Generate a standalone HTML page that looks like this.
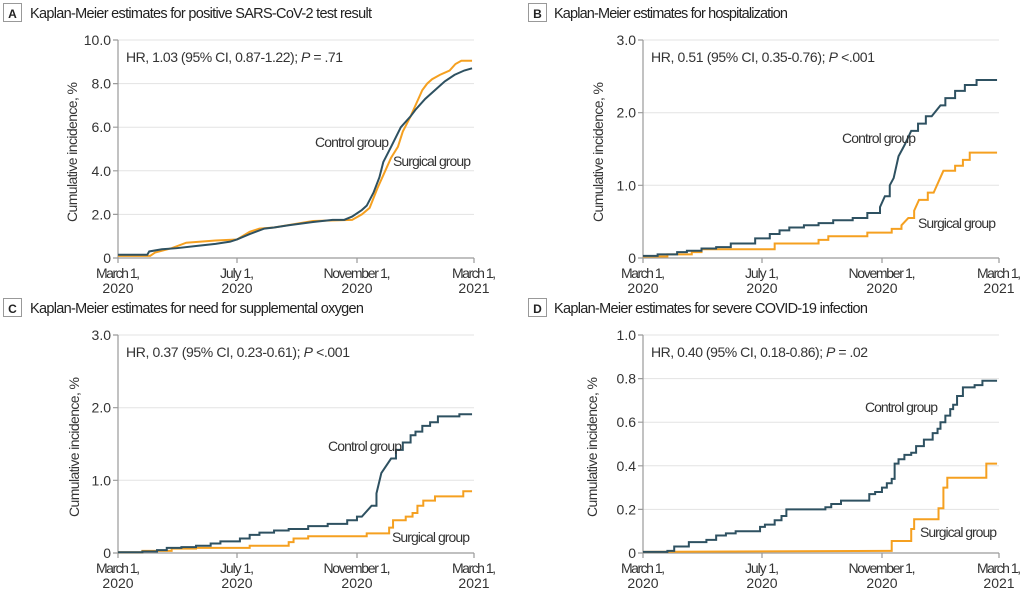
<!DOCTYPE html>
<html><head><meta charset="utf-8"><style>
html,body{margin:0;padding:0;background:#fff;}
svg{display:block;font-family:"Liberation Sans Narrow","Liberation Sans",sans-serif;}
.t{font-size:14.5px;fill:#222;}
.k{font-size:14px;fill:#333;}
.hr{font-size:14px;fill:#333;}
.g{stroke:#e3e3e3;stroke-width:1;}
.ax{stroke:#9a9a9a;stroke-width:1.2;fill:none;}
.c{stroke:#2e5161;stroke-width:2;fill:none;vector-effect:non-scaling-stroke;}
.s{stroke:#f5a020;stroke-width:2;fill:none;vector-effect:non-scaling-stroke;}
.lb{font-size:14px;fill:#333;}
</style></head><body>
<svg width="1024" height="589" viewBox="0 0 1024 589">
<!-- ===== A ===== -->
<rect x="3.5" y="3.5" width="18" height="18" fill="#fff" stroke="#999"/>
<text x="12.5" y="18" class="t" text-anchor="middle" font-weight="bold" style="font-size:12px">A</text>
<text x="30" y="18" class="t" textLength="342">Kaplan-Meier estimates for positive SARS-CoV-2 test result</text>
<g>
<line class="g" x1="118" x2="474" y1="40" y2="40"/><line class="g" x1="118" x2="474" y1="83.6" y2="83.6"/><line class="g" x1="118" x2="474" y1="127.2" y2="127.2"/><line class="g" x1="118" x2="474" y1="170.8" y2="170.8"/><line class="g" x1="118" x2="474" y1="214.4" y2="214.4"/>
<path class="ax" d="M118 40V258H474M113 40H118M113 83.6H118M113 127.2H118M113 170.8H118M113 214.4H118M113 258H118M118 258v5M237 258v5M357 258v5M474 258v5"/>
<g class="k" text-anchor="end"><text x="111" y="45">10.0</text><text x="111" y="88.6">8.0</text><text x="111" y="132.2">6.0</text><text x="111" y="175.8">4.0</text><text x="111" y="219.4">2.0</text><text x="111" y="263">0</text></g>
<g class="k" text-anchor="middle"><text x="118" y="278" textLength="44">March 1,</text><text x="118" y="293">2020</text><text x="237" y="278" textLength="34">July 1,</text><text x="237" y="293">2020</text><text x="357" y="278" textLength="67">November 1,</text><text x="357" y="293">2020</text><text x="474" y="278" textLength="44">March 1,</text><text x="474" y="293">2021</text></g>
<text class="k" transform="translate(77,152) rotate(-90)" text-anchor="middle" textLength="140">Cumulative incidence, %</text>
<text x="126" y="62" class="hr" textLength="217">HR, 1.03 (95% CI, 0.87-1.22); <tspan font-style="italic">P</tspan> = .71</text>
<g transform="translate(118,258) scale(0.97534,-21.8)">
<path class="s" d="M0 0.1 L33 0.1 L38 0.25 L55 0.45 L70 0.7 L100 0.8 L122 0.85 L135 1.2 L145 1.35 L160 1.4 L200 1.7 L240 1.75 L250 2.0 L258 2.3 L266 3.2 L272 3.8 L280 4.6 L287 5.1 L292 5.8 L300 6.5 L305 7.0 L312 7.7 L317 8.0 L322 8.2 L330 8.4 L340 8.6 L346 8.9 L352 9.05 L363 9.05"/>
<path class="c" d="M0 0.15 L30 0.15 L32 0.3 L45 0.4 L60 0.45 L80 0.55 L100 0.65 L115 0.75 L122 0.85 L135 1.1 L150 1.35 L160 1.4 L175 1.5 L200 1.65 L220 1.75 L232 1.75 L240 1.9 L250 2.2 L255 2.4 L262 3.0 L268 3.7 L272 4.4 L280 5.1 L290 6.0 L300 6.5 L305 6.8 L315 7.3 L325 7.7 L335 8.1 L345 8.4 L355 8.6 L363 8.7"/>
</g>
<text x="315" y="147" class="lb" textLength="74">Control group</text>
<text x="393" y="166" class="lb" textLength="78">Surgical group</text>
</g>

<!-- ===== B ===== -->
<rect x="528.5" y="3.5" width="18" height="18" fill="#fff" stroke="#999"/>
<text x="537.5" y="18" class="t" text-anchor="middle" font-weight="bold" style="font-size:12px">B</text>
<text x="554" y="18" class="t" textLength="234">Kaplan-Meier estimates for hospitalization</text>
<g>
<line class="g" x1="643" x2="999" y1="40" y2="40"/><line class="g" x1="643" x2="999" y1="112.7" y2="112.7"/><line class="g" x1="643" x2="999" y1="185.3" y2="185.3"/>
<path class="ax" d="M643 40V258H999M638 40H643M638 112.7H643M638 185.3H643M638 258H643M643 258v5M762 258v5M882 258v5M999 258v5"/>
<g class="k" text-anchor="end"><text x="636" y="45">3.0</text><text x="636" y="117.7">2.0</text><text x="636" y="190.3">1.0</text><text x="636" y="263">0</text></g>
<g class="k" text-anchor="middle"><text x="643" y="278" textLength="44">March 1,</text><text x="643" y="293">2020</text><text x="762" y="278" textLength="34">July 1,</text><text x="762" y="293">2020</text><text x="882" y="278" textLength="67">November 1,</text><text x="882" y="293">2020</text><text x="999" y="278" textLength="44">March 1,</text><text x="999" y="293">2021</text></g>
<text class="k" transform="translate(603,152) rotate(-90)" text-anchor="middle" textLength="140">Cumulative incidence, %</text>
<text x="651" y="62" class="hr" textLength="224">HR, 0.51 (95% CI, 0.35-0.76); <tspan font-style="italic">P</tspan> &lt;.001</text>
<g transform="translate(643,258) scale(0.97534,-72.667)">
<path class="s" d="M0 0.02 H25 V0.05 H50 V0.08 H60 V0.12 H135 V0.2 H180 V0.25 H190 V0.3 H230 V0.35 H255 V0.4 H265 V0.45 L272 0.55 H278 V0.65 L283 0.8 H292 V0.9 H298 L303 1.05 L308 1.2 H320 V1.27 H328 V1.35 H335 V1.45 H363"/>
<path class="c" d="M0 0.03 H15 V0.05 H35 V0.08 H45 V0.1 H60 V0.13 H75 V0.15 H90 V0.2 H115 V0.27 H130 V0.33 H140 V0.38 H150 V0.42 H165 V0.45 H180 V0.48 H195 V0.52 H215 V0.55 H230 V0.62 H243 V0.7 L248 0.85 H253 V1.0 L257 1.1 L262 1.4 L268 1.55 L275 1.75 H282 V1.85 H290 V1.95 H296 L305 2.1 H310 V2.2 H320 V2.3 H330 V2.38 H342 V2.45 H363"/>
</g>
<text x="842" y="143" class="lb" textLength="74">Control group</text>
<text x="918" y="228" class="lb" textLength="78">Surgical group</text>
</g>

<!-- ===== C ===== -->
<rect x="3.5" y="298.5" width="18" height="18" fill="#fff" stroke="#999"/>
<text x="12.5" y="313" class="t" text-anchor="middle" font-weight="bold" style="font-size:12px">C</text>
<text x="30" y="313" class="t" textLength="334">Kaplan-Meier estimates for need for supplemental oxygen</text>
<g>
<line class="g" x1="118" x2="474" y1="335" y2="335"/><line class="g" x1="118" x2="474" y1="407.7" y2="407.7"/><line class="g" x1="118" x2="474" y1="480.3" y2="480.3"/>
<path class="ax" d="M118 335V553H474M113 335H118M113 407.7H118M113 480.3H118M113 553H118M118 553v5M237 553v5M357 553v5M474 553v5"/>
<g class="k" text-anchor="end"><text x="111" y="340">3.0</text><text x="111" y="412.7">2.0</text><text x="111" y="485.3">1.0</text><text x="111" y="558">0</text></g>
<g class="k" text-anchor="middle"><text x="118" y="573" textLength="44">March 1,</text><text x="118" y="588">2020</text><text x="237" y="573" textLength="34">July 1,</text><text x="237" y="588">2020</text><text x="357" y="573" textLength="67">November 1,</text><text x="357" y="588">2020</text><text x="474" y="573" textLength="44">March 1,</text><text x="474" y="588">2021</text></g>
<text class="k" transform="translate(79,447) rotate(-90)" text-anchor="middle" textLength="140">Cumulative incidence, %</text>
<text x="126" y="357" class="hr" textLength="224">HR, 0.37 (95% CI, 0.23-0.61); <tspan font-style="italic">P</tspan> &lt;.001</text>
<g transform="translate(118,553) scale(0.97534,-72.667)">
<path class="s" d="M0 0.01 H25 V0.03 H55 V0.06 H80 V0.07 H135 V0.1 H175 V0.15 H180 V0.2 H195 V0.23 H255 V0.27 H278 V0.35 H282 V0.45 H295 V0.5 H302 V0.55 H307 V0.65 H313 V0.72 H325 V0.78 H354 V0.85 H363"/>
<path class="c" d="M0 0.01 H25 V0.02 H40 V0.04 H50 V0.07 H65 V0.08 H80 V0.1 H95 V0.13 H105 V0.16 H125 V0.2 H135 V0.25 H145 V0.28 H160 V0.31 H175 V0.33 H195 V0.37 H215 V0.4 H235 V0.45 H245 V0.5 H250 L260 0.65 H265 V0.82 L270 1.1 L280 1.3 H285 V1.42 H292 V1.52 H300 V1.62 H305 V1.67 H312 V1.75 H320 V1.8 H328 V1.88 H350 V1.91 H363"/>
</g>
<text x="328" y="451" class="lb" textLength="74">Control group</text>
<text x="392" y="542" class="lb" textLength="78">Surgical group</text>
</g>

<!-- ===== D ===== -->
<rect x="528.5" y="298.5" width="18" height="18" fill="#fff" stroke="#999"/>
<text x="537.5" y="313" class="t" text-anchor="middle" font-weight="bold" style="font-size:12px">D</text>
<text x="554" y="313" class="t" textLength="314">Kaplan-Meier estimates for severe COVID-19 infection</text>
<g>
<line class="g" x1="643" x2="999" y1="335" y2="335"/><line class="g" x1="643" x2="999" y1="378.6" y2="378.6"/><line class="g" x1="643" x2="999" y1="422.2" y2="422.2"/><line class="g" x1="643" x2="999" y1="465.8" y2="465.8"/><line class="g" x1="643" x2="999" y1="509.4" y2="509.4"/>
<path class="ax" d="M643 335V553H999M638 335H643M638 378.6H643M638 422.2H643M638 465.8H643M638 509.4H643M638 553H643M643 553v5M762 553v5M882 553v5M999 553v5"/>
<g class="k" text-anchor="end"><text x="636" y="340">1.0</text><text x="636" y="383.6">0.8</text><text x="636" y="427.2">0.6</text><text x="636" y="470.8">0.4</text><text x="636" y="514.4">0.2</text><text x="636" y="558">0</text></g>
<g class="k" text-anchor="middle"><text x="643" y="573" textLength="44">March 1,</text><text x="643" y="588">2020</text><text x="762" y="573" textLength="34">July 1,</text><text x="762" y="588">2020</text><text x="882" y="573" textLength="67">November 1,</text><text x="882" y="588">2020</text><text x="999" y="573" textLength="44">March 1,</text><text x="999" y="588">2021</text></g>
<text class="k" transform="translate(597,447) rotate(-90)" text-anchor="middle" textLength="140">Cumulative incidence, %</text>
<text x="651" y="357" class="hr" textLength="217">HR, 0.40 (95% CI, 0.18-0.86); <tspan font-style="italic">P</tspan> = .02</text>
<g transform="translate(643,553) scale(0.97534,-218)">
<path class="s" d="M0 0.005 L250 0.01 H255 V0.055 H275 V0.11 H278 V0.155 H303 V0.205 H308 V0.3 H312 V0.345 H352 V0.41 H363"/>
<path class="c" d="M0 0.005 H25 V0.01 H32 V0.03 H47 V0.05 H65 V0.06 H75 V0.08 H85 V0.09 H95 V0.1 H120 V0.12 H125 V0.13 H135 V0.15 H142 V0.17 H147 V0.2 H187 V0.21 H193 V0.225 H203 V0.24 H232 V0.27 H238 V0.28 H245 V0.3 H250 V0.32 H255 V0.34 H258 V0.41 H262 V0.43 H268 V0.45 H275 V0.46 H280 V0.49 H288 V0.52 H297 V0.55 H302 V0.57 H305 V0.6 H310 V0.63 H315 V0.66 H318 V0.68 H322 V0.72 H328 V0.76 H340 V0.77 H348 V0.79 H363"/>
</g>
<text x="865" y="412" class="lb" textLength="73">Control group</text>
<text x="920" y="537" class="lb" textLength="77">Surgical group</text>
</g>
</svg>
</body></html>
